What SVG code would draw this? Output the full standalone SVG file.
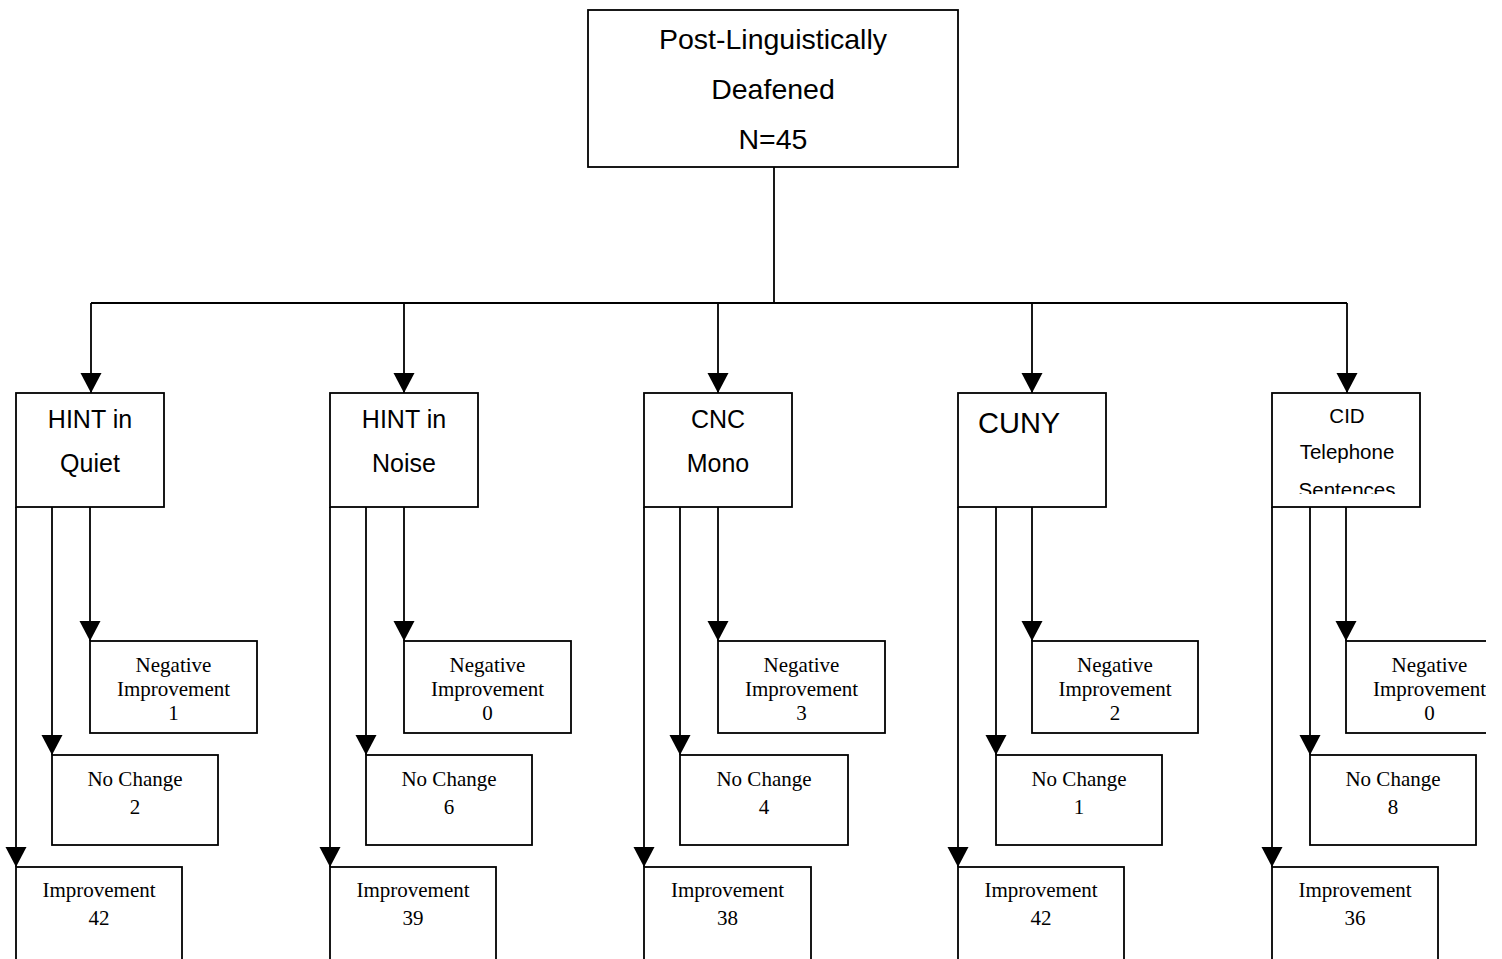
<svg xmlns="http://www.w3.org/2000/svg" width="1502" height="959" viewBox="0 0 1502 959">
<style>
.box{fill:#fff;stroke:#000;stroke-width:1.8}
.ln{fill:none;stroke:#000;stroke-width:1.8}
.sans{font-family:"Liberation Sans",Arial,sans-serif;fill:#000;text-anchor:middle}
.left{text-anchor:start}
.serif{font-family:"Liberation Serif","Times New Roman",serif;font-size:21px;fill:#000;text-anchor:middle}
.cat{font-size:25px}
</style>
<defs>
<marker id="ah" markerUnits="userSpaceOnUse" markerWidth="22" markerHeight="22" viewBox="0 0 22 22" refX="20" refY="10.5" orient="auto">
<path d="M0,0 L20,10.5 L0,21 z" fill="#000"/>
</marker>
<clipPath id="page"><rect x="0" y="0" width="1486" height="959"/></clipPath>
<clipPath id="cidclip"><rect x="1272" y="393" width="148" height="101"/></clipPath>
</defs>
<rect width="1502" height="959" fill="#fff"/>
<g clip-path="url(#page)">
<g id="connectors">
<path class="ln" d="M774,167 V303 M91,303 H1347"/>
<path class="ln" marker-end="url(#ah)" d="M91,303 V393"/>
<path class="ln" marker-end="url(#ah)" d="M404,303 V393"/>
<path class="ln" marker-end="url(#ah)" d="M718,303 V393"/>
<path class="ln" marker-end="url(#ah)" d="M1032,303 V393"/>
<path class="ln" marker-end="url(#ah)" d="M1347,303 V393"/>
<path class="ln" marker-end="url(#ah)" d="M16,507 V867"/>
<path class="ln" marker-end="url(#ah)" d="M52,507 V755"/>
<path class="ln" marker-end="url(#ah)" d="M90,507 V641"/>
<path class="ln" marker-end="url(#ah)" d="M330,507 V867"/>
<path class="ln" marker-end="url(#ah)" d="M366,507 V755"/>
<path class="ln" marker-end="url(#ah)" d="M404,507 V641"/>
<path class="ln" marker-end="url(#ah)" d="M644,507 V867"/>
<path class="ln" marker-end="url(#ah)" d="M680,507 V755"/>
<path class="ln" marker-end="url(#ah)" d="M718,507 V641"/>
<path class="ln" marker-end="url(#ah)" d="M958,507 V867"/>
<path class="ln" marker-end="url(#ah)" d="M996,507 V755"/>
<path class="ln" marker-end="url(#ah)" d="M1032,507 V641"/>
<path class="ln" marker-end="url(#ah)" d="M1272,507 V867"/>
<path class="ln" marker-end="url(#ah)" d="M1310,507 V755"/>
<path class="ln" marker-end="url(#ah)" d="M1346,507 V641"/>
</g>
<g id="root">
<rect class="box" x="588" y="10" width="370" height="157"/>
<text class="sans" font-size="28.5" x="773" y="49">Post-Linguistically</text>
<text class="sans" font-size="28.5" x="773" y="99">Deafened</text>
<text class="sans" font-size="28.5" x="773" y="149">N=45</text>
</g>
<g id="hint-quiet">
<rect class="box" x="16" y="393" width="148" height="114"/>
<text class="sans cat" x="90" y="428">HINT in</text>
<text class="sans cat" x="90" y="472">Quiet</text>
</g>
<g id="hint-noise">
<rect class="box" x="330" y="393" width="148" height="114"/>
<text class="sans cat" x="404" y="428">HINT in</text>
<text class="sans cat" x="404" y="472">Noise</text>
</g>
<g id="cnc-mono">
<rect class="box" x="644" y="393" width="148" height="114"/>
<text class="sans cat" x="718" y="428">CNC</text>
<text class="sans cat" x="718" y="472">Mono</text>
</g>
<g id="cuny">
<rect class="box" x="958" y="393" width="148" height="114"/>
<text class="sans left" font-size="29" x="978" y="433">CUNY</text>
</g>
<g id="cid">
<rect class="box" x="1272" y="393" width="148" height="114"/>
<g clip-path="url(#cidclip)">
<text class="sans" font-size="20.5" x="1347" y="423">CID</text>
<text class="sans" font-size="20.5" x="1347" y="459">Telephone</text>
<text class="sans" font-size="20.5" x="1347" y="496.5">Sentences</text>
</g>
</g>
<g id="c1-neg"><rect class="box" x="90" y="641" width="167" height="92"/>
<text class="serif" x="173.5" y="672">Negative</text><text class="serif" x="173.5" y="696">Improvement</text><text class="serif" x="173.5" y="720">1</text></g>
<g id="c1-nc"><rect class="box" x="52" y="755" width="166" height="90"/>
<text class="serif" x="135" y="786">No Change</text><text class="serif" x="135" y="814">2</text></g>
<g id="c1-imp"><rect class="box" x="16" y="867" width="166" height="100"/>
<text class="serif" x="99" y="897">Improvement</text><text class="serif" x="99" y="925">42</text></g>
<g id="c2-neg"><rect class="box" x="404" y="641" width="167" height="92"/>
<text class="serif" x="487.5" y="672">Negative</text><text class="serif" x="487.5" y="696">Improvement</text><text class="serif" x="487.5" y="720">0</text></g>
<g id="c2-nc"><rect class="box" x="366" y="755" width="166" height="90"/>
<text class="serif" x="449" y="786">No Change</text><text class="serif" x="449" y="814">6</text></g>
<g id="c2-imp"><rect class="box" x="330" y="867" width="166" height="100"/>
<text class="serif" x="413" y="897">Improvement</text><text class="serif" x="413" y="925">39</text></g>
<g id="c3-neg"><rect class="box" x="718" y="641" width="167" height="92"/>
<text class="serif" x="801.5" y="672">Negative</text><text class="serif" x="801.5" y="696">Improvement</text><text class="serif" x="801.5" y="720">3</text></g>
<g id="c3-nc"><rect class="box" x="680" y="755" width="168" height="90"/>
<text class="serif" x="764" y="786">No Change</text><text class="serif" x="764" y="814">4</text></g>
<g id="c3-imp"><rect class="box" x="644" y="867" width="167" height="100"/>
<text class="serif" x="727.5" y="897">Improvement</text><text class="serif" x="727.5" y="925">38</text></g>
<g id="c4-neg"><rect class="box" x="1032" y="641" width="166" height="92"/>
<text class="serif" x="1115" y="672">Negative</text><text class="serif" x="1115" y="696">Improvement</text><text class="serif" x="1115" y="720">2</text></g>
<g id="c4-nc"><rect class="box" x="996" y="755" width="166" height="90"/>
<text class="serif" x="1079" y="786">No Change</text><text class="serif" x="1079" y="814">1</text></g>
<g id="c4-imp"><rect class="box" x="958" y="867" width="166" height="100"/>
<text class="serif" x="1041" y="897">Improvement</text><text class="serif" x="1041" y="925">42</text></g>
<g id="c5-neg"><rect class="box" x="1346" y="641" width="167" height="92"/>
<text class="serif" x="1429.5" y="672">Negative</text><text class="serif" x="1429.5" y="696">Improvement</text><text class="serif" x="1429.5" y="720">0</text></g>
<g id="c5-nc"><rect class="box" x="1310" y="755" width="166" height="90"/>
<text class="serif" x="1393" y="786">No Change</text><text class="serif" x="1393" y="814">8</text></g>
<g id="c5-imp"><rect class="box" x="1272" y="867" width="166" height="100"/>
<text class="serif" x="1355" y="897">Improvement</text><text class="serif" x="1355" y="925">36</text></g>
</g>
</svg>
